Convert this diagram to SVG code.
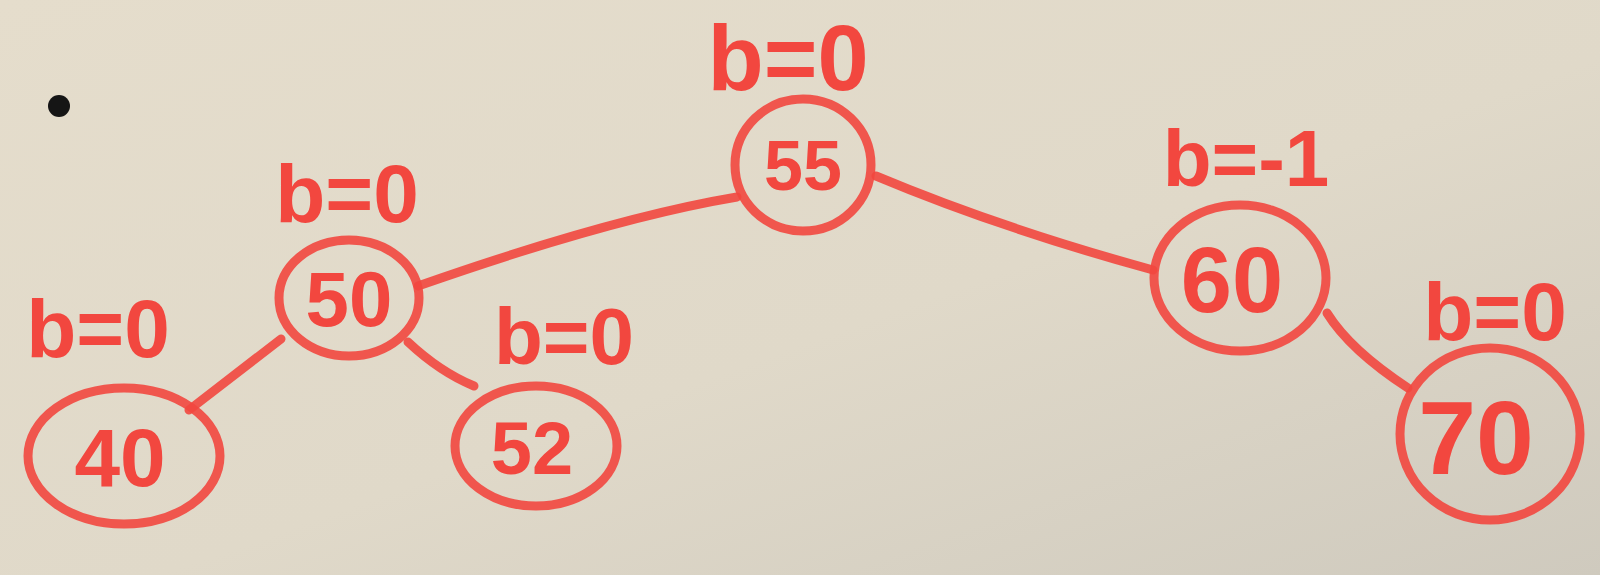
<svg xmlns="http://www.w3.org/2000/svg" width="1600" height="575" viewBox="0 0 1600 575">
<defs>
<linearGradient id="bg" x1="0" y1="0" x2="1" y2="1">
<stop offset="0" stop-color="#e5ddcc"/>
<stop offset="0.55" stop-color="#e0d9c9"/>
<stop offset="1" stop-color="#cfcabe"/>
</linearGradient>
<style>
.n{fill:none;stroke:#f2473f;stroke-width:9;stroke-opacity:0.9}
.t{font-family:"Liberation Sans",Arial,sans-serif;font-weight:bold;fill:#f2473f;text-anchor:middle}
.e{fill:none;stroke:#f2473f;stroke-width:9;stroke-linecap:round;stroke-opacity:0.9}
</style>
</defs>
<rect width="1600" height="575" fill="url(#bg)"/>
<circle cx="59" cy="106" r="11" fill="#151515"/>
<g id="edges">
<path class="e" d="M737,197 Q612,218 418,286"/>
<path class="e" d="M876,176 Q1000,228 1153,270"/>
<path class="e" d="M281,339 L189,410"/>
<path class="e" d="M408,342 Q440,372 474,386"/>
<path class="e" d="M1327,313 Q1350,350 1408,388"/>
</g>
<g id="n55">
<ellipse class="n" cx="803" cy="165" rx="68" ry="66"/>
<text class="t" x="803" y="190" style="font-size:70px">55</text>
<text class="t" x="788" y="90" style="font-size:92px">b=0</text>
</g>
<g id="n50">
<ellipse class="n" cx="349" cy="298" rx="70" ry="58"/>
<text class="t" x="349" y="326" style="font-size:78px">50</text>
<text class="t" x="347" y="222" style="font-size:82px">b=0</text>
</g>
<g id="n40">
<ellipse class="n" cx="124" cy="456" rx="96" ry="68"/>
<text class="t" x="120" y="486" style="font-size:82px">40</text>
<text class="t" x="98" y="357" style="font-size:82px">b=0</text>
</g>
<g id="n52">
<ellipse class="n" cx="536" cy="446" rx="81" ry="60"/>
<text class="t" x="532" y="474" style="font-size:74px">52</text>
<text class="t" x="564" y="364" style="font-size:80px">b=0</text>
</g>
<g id="n60">
<ellipse class="n" cx="1240" cy="278" rx="86" ry="73"/>
<text class="t" x="1232" y="312" style="font-size:92px">60</text>
<text class="t" x="1246" y="186" style="font-size:80px">b=-1</text>
</g>
<g id="n70">
<ellipse class="n" cx="1490" cy="434" rx="90" ry="86"/>
<text class="t" x="1476" y="474" style="font-size:104px">70</text>
<text class="t" x="1495" y="340" style="font-size:82px">b=0</text>
</g>
</svg>
